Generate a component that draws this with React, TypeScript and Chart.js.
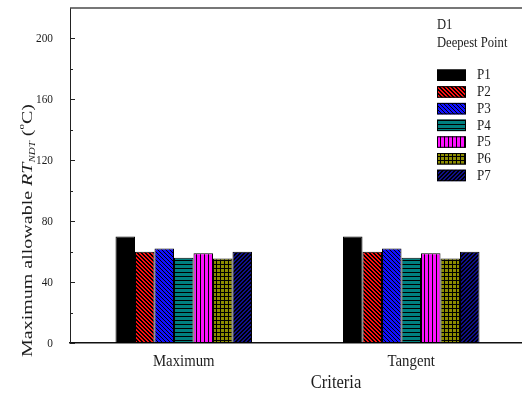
import React, { useEffect, useRef } from "react";
import { Chart, registerables } from "chart.js";

Chart.register(...registerables);

// ---- data ----
const categories = ["Maximum", "Tangent"];
const seriesNames = ["P1", "P2", "P3", "P4", "P5", "P6", "P7"];
const p1Values = [70, 70];
const p2Values = [60, 60];
const p3Values = [62, 62];
const p4Values = [56, 56];
const p5Values = [59, 59];
const p6Values = [55.5, 55.5];
const p7Values = [60, 60];
const yMajorTicks = [0, 40, 80, 120, 160, 200];
const yMinorTicks = [20, 60, 100, 140, 180];
const legendHeader = ["D1", "Deepest Point"];
const xTitle = "Criteria";

const SERIF = '"Liberation Serif", "Times New Roman", serif';
const TEXT = "#1c1c1c";
const SX = 0.87; // horizontal squeeze applied to all lettering
const TITLE_SQUEEZE = 0.78; // thickness squeeze for the rotated y title

type Fill = string | CanvasPattern;

function pattern(base: string, paint: (x: number, y: number) => boolean, size = 4): Fill {
  const c = document.createElement("canvas");
  c.width = size;
  c.height = size;
  const g = c.getContext("2d")!;
  g.fillStyle = base;
  g.fillRect(0, 0, size, size);
  g.fillStyle = "#000";
  for (let y = 0; y < size; y++)
    for (let x = 0; x < size; x++) if (paint(x, y)) g.fillRect(x, y, 1, 1);
  return g.createPattern(c, "repeat")!;
}

function makeFills(): Fill[] {
  return [
    "#000000",
    pattern("#ff1010", (x, y) => ((x - y + 8) % 4) < 2), // "\\" hatch
    pattern("#1010ff", (x, y) => (Math.floor(x / 2) + Math.floor(y / 2)) % 2 === 0 && (x + y) % 2 === 0), // checks
    pattern("#008080", (_x, y) => y % 4 === 0), // horizontal lines
    pattern("#ff10ff", (x) => x % 4 === 0), // vertical lines
    pattern("#8c8c00", (x, y) => x % 4 === 0 || y % 4 === 0), // grid
    pattern("#10108a", (x, y) => ((x + y) % 4) < 2), // "/" hatch
  ];
}

function text(ctx: CanvasRenderingContext2D, s: string, x: number, y: number, align: CanvasTextAlign, font: string, base: CanvasTextBaseline = "middle") {
  ctx.save();
  ctx.translate(x, y);
  ctx.scale(SX, 1);
  ctx.font = font;
  ctx.fillStyle = TEXT;
  ctx.textAlign = align;
  ctx.textBaseline = base;
  ctx.fillText(s, 0, 0);
  ctx.restore();
}

const decorations = (fills: Fill[]) => ({
  id: "decorations",
  afterDraw(chart: any) {
    const ctx: CanvasRenderingContext2D = chart.ctx;
    const { left, right, top, bottom } = chart.chartArea;
    const ys = chart.scales.y;
    const xs = chart.scales.x;

    ctx.save();
    // top frame line
    ctx.strokeStyle = "#4a4a4a";
    ctx.lineWidth = 1.5;
    ctx.beginPath();
    ctx.moveTo(left, top);
    ctx.lineTo(right + 5, top);
    ctx.stroke();

    // inward ticks on the y axis
    ctx.strokeStyle = "#222";
    ctx.lineWidth = 1;
    for (const v of yMajorTicks) {
      const py = Math.round(ys.getPixelForValue(v)) + 0.5;
      ctx.beginPath();
      ctx.moveTo(left, py);
      ctx.lineTo(left + 5, py);
      ctx.stroke();
      text(ctx, String(v), left - 17, py, "right", `13px ${SERIF}`);
    }
    for (const v of yMinorTicks) {
      const py = Math.round(ys.getPixelForValue(v)) + 0.5;
      ctx.beginPath();
      ctx.moveTo(left, py);
      ctx.lineTo(left + 3, py);
      ctx.stroke();
    }

    // category labels + x title
    categories.forEach((c, i) => {
      text(ctx, c, xs.getPixelForTick(i), bottom + 19, "center", `17px ${SERIF}`);
    });
    text(ctx, xTitle, (left + 522) / 2 + 40, bottom + 40, "center", `19px ${SERIF}`);

    // y title, rotated
    ctx.save();
    ctx.translate(32, 357);
    ctx.rotate(-Math.PI / 2);
    ctx.scale(1, TITLE_SQUEEZE);
    ctx.fillStyle = TEXT;
    ctx.textBaseline = "alphabetic";
    ctx.textAlign = "left";
    let cx = 0;
    const part = (s: string, font: string, dy = 0) => {
      ctx.font = font;
      ctx.fillText(s, cx, dy);
      cx += ctx.measureText(s).width;
    };
    part("Maximum allowable ", `20px ${SERIF}`);
    part("RT", `italic 20px ${SERIF}`);
    part("NDT", `italic 11px ${SERIF}`, 4);
    part(" (", `20px ${SERIF}`);
    part("o", `11px ${SERIF}`, -10);
    part("C)", `20px ${SERIF}`);
    ctx.restore();

    // legend
    text(ctx, legendHeader[0], 437, 25, "left", `14.5px ${SERIF}`);
    text(ctx, legendHeader[1], 437, 43, "left", `14.5px ${SERIF}`);
    seriesNames.forEach((n, i) => {
      const by = 69.5 + i * 16.7;
      ctx.fillStyle = fills[i] as any;
      ctx.fillRect(437, by, 29, 11.5);
      ctx.strokeStyle = "#000";
      ctx.lineWidth = 1;
      ctx.strokeRect(437.5, by + 0.5, 28, 10.5);
      text(ctx, n, 477, by + 6, "left", `15px ${SERIF}`);
    });
    ctx.restore();
  },
});

export default function App() {
  const ref = useRef<HTMLCanvasElement>(null);

  useEffect(() => {
    const canvas = ref.current!;
    const fills = makeFills();
    const values = [p1Values, p2Values, p3Values, p4Values, p5Values, p6Values, p7Values];
    const chart = new Chart(canvas, {
      type: "bar",
      data: {
        labels: categories,
        datasets: seriesNames.map((name, i) => ({
          label: name,
          data: values[i],
          backgroundColor: fills[i] as any,
          borderColor: "#000",
          borderWidth: 1,
          borderSkipped: false,
          categoryPercentage: 0.6,
          barPercentage: 1,
        })),
      },
      options: {
        responsive: false,
        animation: false,
        devicePixelRatio: 1,
        layout: { padding: { top: 8, left: 0, right: 0, bottom: 0 } },
        plugins: { legend: { display: false }, tooltip: { enabled: false }, title: { display: false } },
        scales: {
          x: {
            type: "category",
            grid: { display: false, drawTicks: false },
            border: { display: true, color: "#111", width: 1.5 },
            ticks: { display: false },
            afterFit: (s: any) => {
              s.height = 58;
            },
          },
          y: {
            min: 0,
            max: 220,
            grid: { display: false, drawTicks: false },
            border: { display: true, color: "#222", width: 1 },
            ticks: { display: false, stepSize: 40 },
            afterFit: (s: any) => {
              s.width = 70;
            },
          },
        },
      },
      plugins: [decorations(fills)],
    });
    return () => chart.destroy();
  }, []);

  return (
    <div style={{ position: "fixed", left: 0, top: 0, width: 522, height: 401, overflow: "hidden", background: "#fff" }}>
      <canvas ref={ref} width={525} height={401} style={{ display: "block", width: 525, height: 401 }} />
    </div>
  );
}
